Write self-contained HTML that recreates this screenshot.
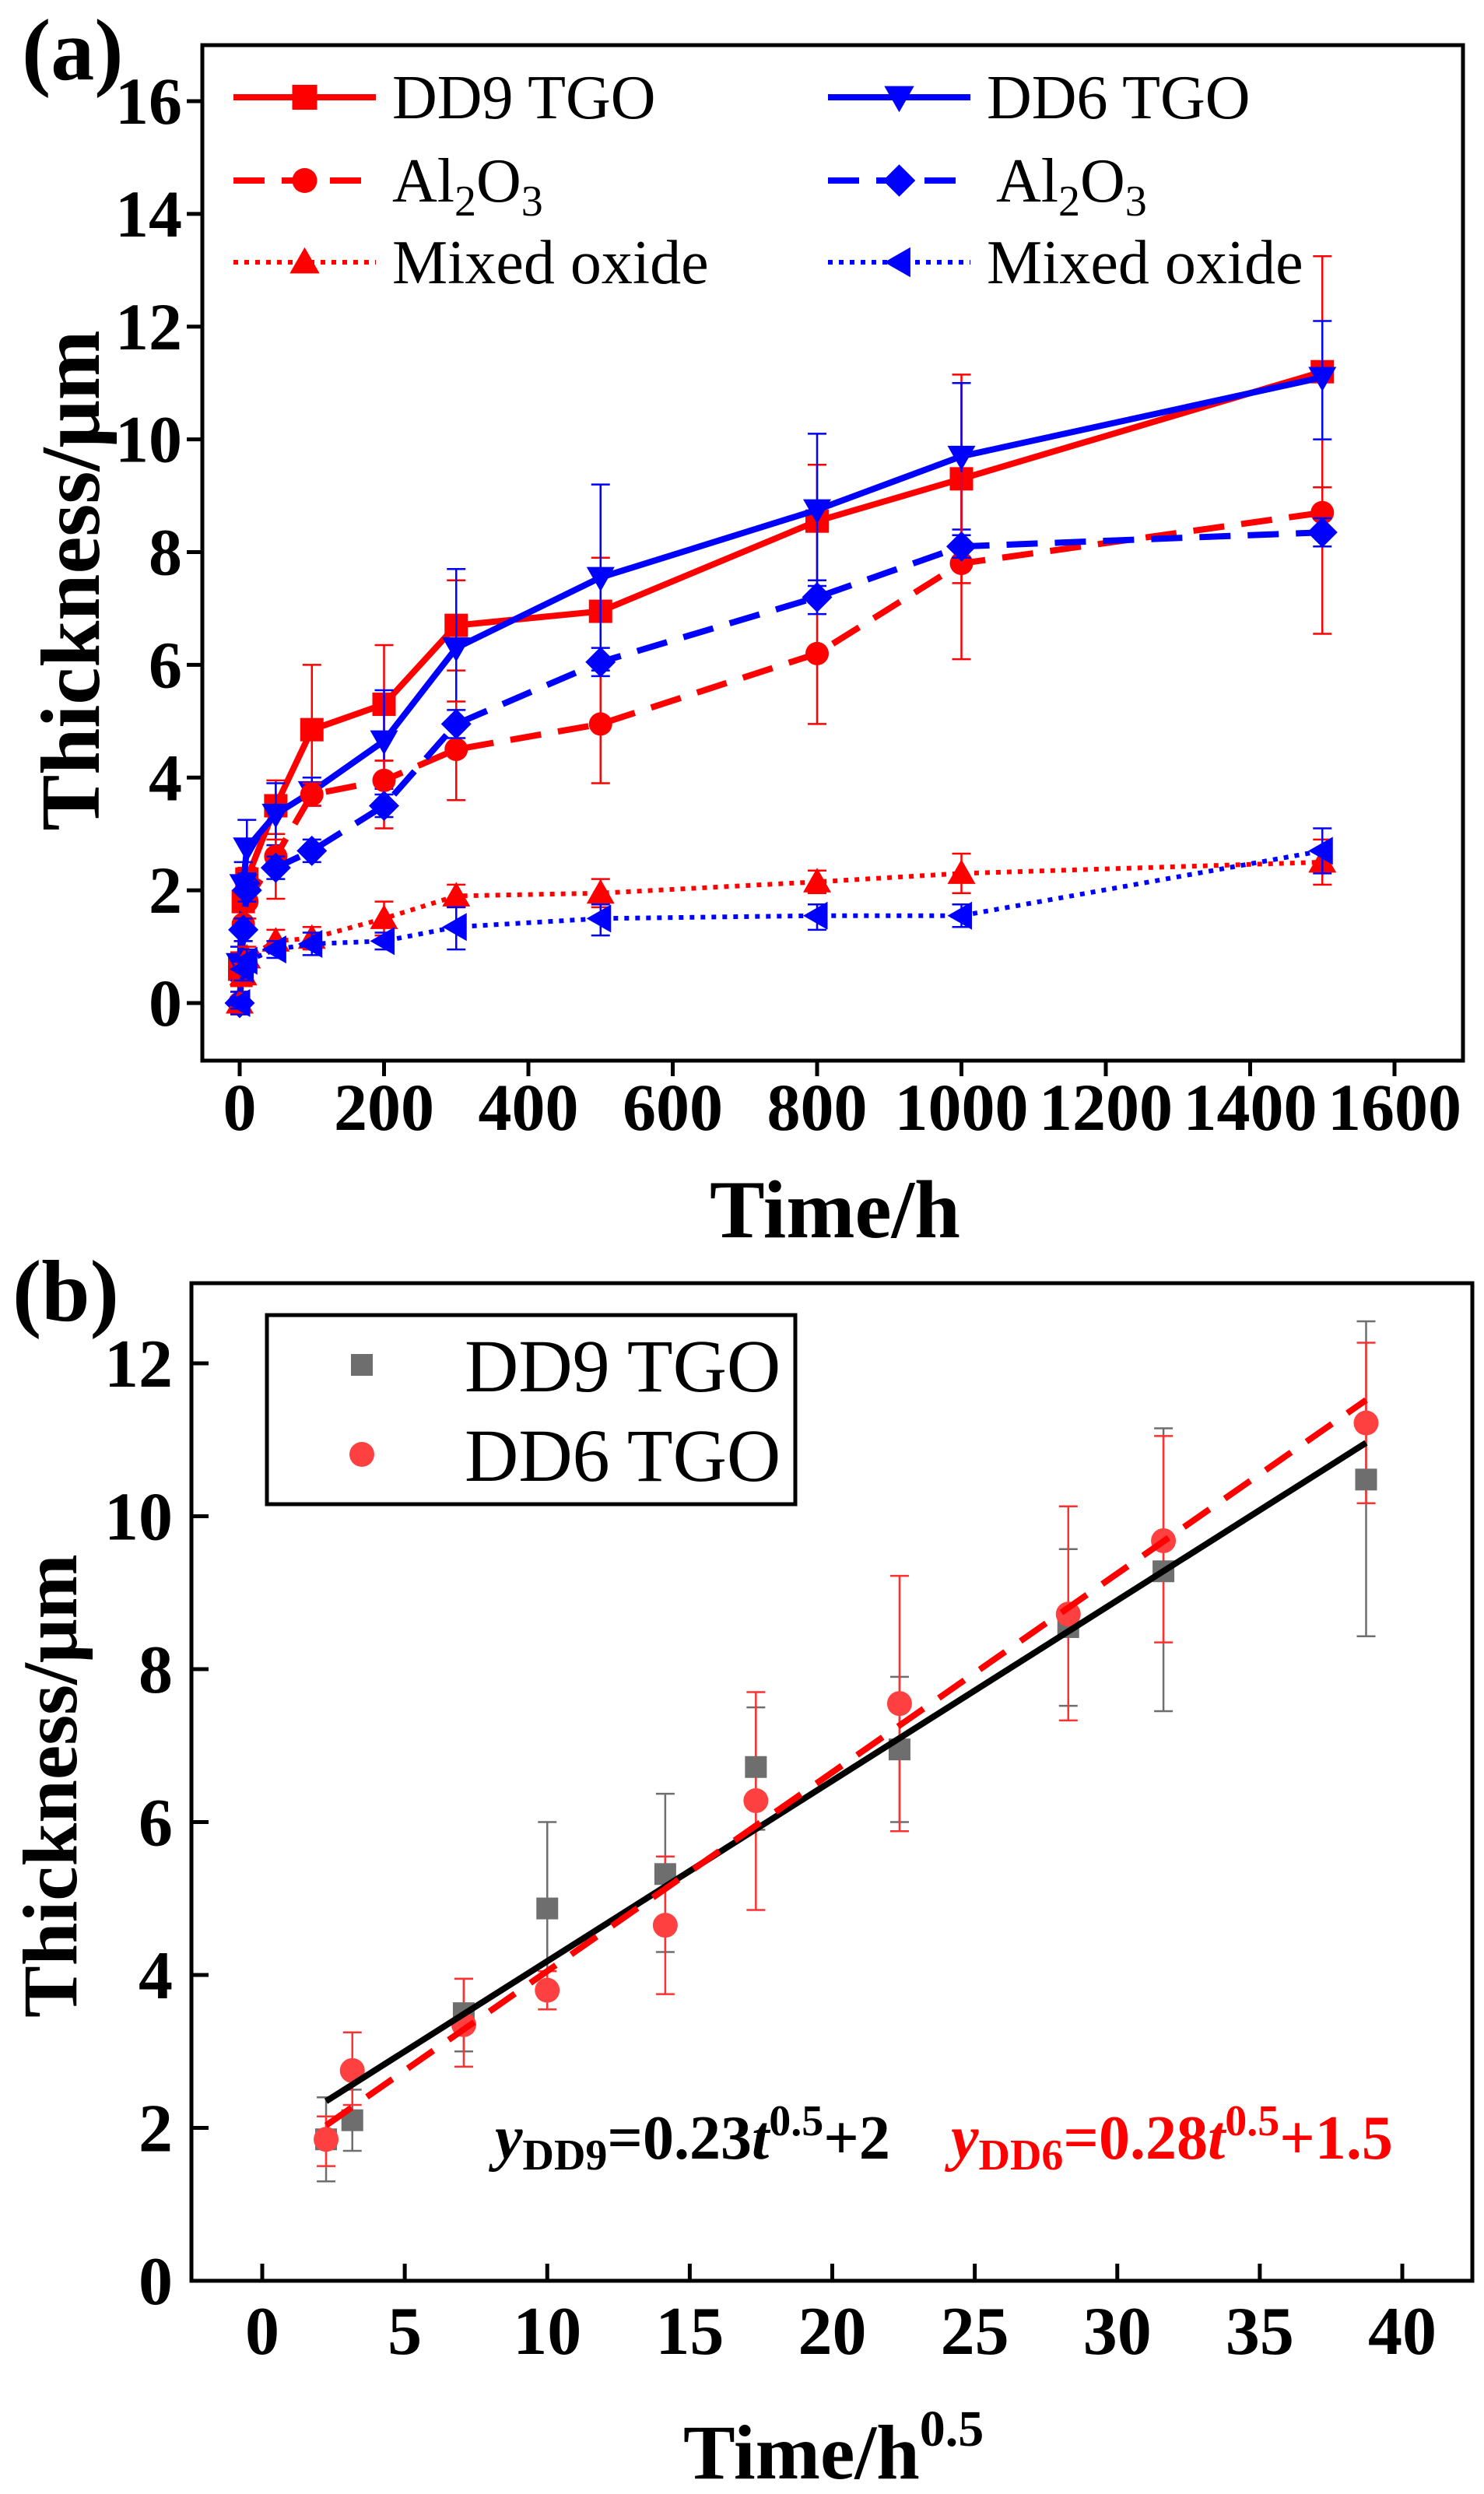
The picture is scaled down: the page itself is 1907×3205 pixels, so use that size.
<!DOCTYPE html>
<html><head><meta charset="utf-8"><style>
html,body{margin:0;padding:0;background:#fff}
svg{display:block}
svg text{font-family:"Liberation Serif","Times New Roman",Times,serif}
</style></head><body>
<svg id="chart" width="1907" height="3205" viewBox="0 0 1907 3205" xmlns="http://www.w3.org/2000/svg" font-family="Liberation Serif, Times New Roman, serif">
<g id="pa"></g>
<g id="pb"></g>
</svg>
<script>
// ---- Panel (a) data ----
const timesA = [0, 5, 10, 50, 100, 200, 300, 500, 800, 1000, 1500];
const dd9Tgo = [0.6, 1.8, 2.2, 3.5, 4.85, 5.3, 6.7, 6.95, 8.55, 9.3, 11.2];
const dd9TgoHi = [0.9, 2.2, 2.4, 3.95, 6.0, 6.35, 7.5, 7.9, 9.55, 11.15, 13.25];
const dd9TgoLo = [0.3, 1.5, 1.3, 3.0, 3.75, 4.3, 5.9, 6.0, 7.5, 7.45, 9.15];
const dd6Tgo = [0.7, 2.1, 2.75, 3.35, 3.75, 4.65, 6.3, 7.55, 8.75, 9.7, 11.1];
const dd6TgoHi = [1.0, 2.5, 3.25, 3.9, 4.0, 5.55, 7.7, 9.2, 10.1, 11.0, 12.1];
const dd6TgoLo = [0.4, 1.7, 2.3, 2.8, 3.5, 3.8, 4.9, 5.9, 7.4, 8.4, 10.0];
const dd9Al = [0, 1.4, 1.8, 2.6, 3.7, 3.95, 4.5, 4.95, 6.2, 7.8, 8.7];
const dd9AlHi = [0.2, 1.7, 2.1, 2.9, 3.9, 4.3, 5.35, 6.0, 7.5, 9.4, 9.15];
const dd9AlLo = [-0.2, 1.1, 1.5, 1.85, 3.5, 3.1, 3.6, 3.9, 4.95, 6.1, 6.55];
const dd6Al = [0, 1.3, 2.0, 2.4, 2.7, 3.5, 4.95, 6.05, 7.2, 8.1, 8.35];
const dd6AlHi = [0.2, 1.5, 2.2, 2.6, 2.9, 3.7, 5.2, 6.3, 7.5, 8.3, 8.6];
const dd6AlLo = [-0.2, 1.1, 1.8, 2.2, 2.5, 3.3, 4.7, 5.8, 6.9, 7.9, 8.1];
const dd9Mix = [0, 0.5, 0.8, 1.1, 1.15, 1.5, 1.9, 1.95, 2.15, 2.3, 2.5];
const dd9MixHi = [0.1, 0.7, 1.0, 1.3, 1.35, 1.8, 2.1, 2.2, 2.35, 2.65, 2.9];
const dd9MixLo = [-0.1, 0.3, 0.6, 0.9, 0.95, 1.2, 1.7, 1.7, 1.95, 1.95, 2.1];
const dd6Mix = [0, 0.6, 0.75, 0.95, 1.05, 1.1, 1.35, 1.5, 1.55, 1.55, 2.7];
const dd6MixHi = [0.1, 0.8, 0.95, 1.1, 1.25, 1.25, 1.7, 1.75, 1.75, 1.75, 3.1];
const dd6MixLo = [-0.1, 0.4, 0.55, 0.8, 0.85, 0.95, 0.95, 1.2, 1.3, 1.35, 2.3];
const xTicksA = [0, 200, 400, 600, 800, 1000, 1200, 1400, 1600];
const yTicksA = [0, 2, 4, 6, 8, 10, 12, 14, 16];

// ---- Panel (b) data ----
const sqrtT = [2.24, 3.16, 7.07, 10, 14.14, 17.32, 22.36, 28.28, 31.62, 38.73];
const dd9B = [1.85, 2.1, 3.5, 4.87, 5.32, 6.72, 6.95, 8.55, 9.28, 10.48];
const dd9BHi = [2.4, 2.5, 3.95, 6.0, 6.37, 7.5, 7.9, 9.57, 11.15, 12.55];
const dd9BLo = [1.3, 1.7, 3.0, 3.75, 4.3, 5.9, 6.0, 7.52, 7.45, 8.43];
const dd6B = [1.85, 2.75, 3.35, 3.8, 4.65, 6.28, 7.55, 8.72, 9.68, 11.22];
const dd6BHi = [2.15, 3.25, 3.95, 4.05, 5.55, 7.7, 9.22, 10.13, 11.05, 12.27];
const dd6BLo = [1.5, 2.3, 2.8, 3.55, 3.75, 4.85, 5.88, 7.33, 8.35, 10.17];
const fitDD9 = [0.236, 1.82];
const fitDD6 = [0.26, 1.45];
const xTicksB = [0, 5, 10, 15, 20, 25, 30, 35, 40];
const yTicksB = [0, 2, 4, 6, 8, 10, 12];

const NS = 'http://www.w3.org/2000/svg';
const FF = 'Liberation Serif, Times New Roman, serif';
function mk(parent, tag, attrs, text){
  const e = document.createElementNS(NS, tag);
  for (const k in attrs) e.setAttribute(k, attrs[k]);
  if (tag === 'text') e.setAttribute('font-family', FF);
  if (text !== undefined) e.textContent = text;
  parent.appendChild(e); return e;
}
function marker(g, shape, x, y, s, color){
  let e;
  if (shape==='square') e = mk(g,'rect',{x:x-s/2,y:y-s/2,width:s,height:s,fill:color});
  else if (shape==='circle') e = mk(g,'circle',{cx:x,cy:y,r:s/2,fill:color});
  else if (shape==='up') e = mk(g,'polygon',{points:`${x},${y-s*0.6} ${x-s*0.6},${y+s*0.45} ${x+s*0.6},${y+s*0.45}`,fill:color});
  else if (shape==='down') e = mk(g,'polygon',{points:`${x},${y+s*0.6} ${x-s*0.6},${y-s*0.45} ${x+s*0.6},${y-s*0.45}`,fill:color});
  else if (shape==='left') e = mk(g,'polygon',{points:`${x-s*0.6},${y} ${x+s*0.45},${y-s*0.6} ${x+s*0.45},${y+s*0.6}`,fill:color});
  else if (shape==='diamond') e = mk(g,'polygon',{points:`${x},${y-s*0.65} ${x+s*0.65},${y} ${x},${y+s*0.65} ${x-s*0.65},${y}`,fill:color});
  return e;
}

// ===== Panel A =====
(function(){
  const g = document.getElementById('pa');
  const L=260, T=58, R=1880, B=1363;
  const xs = v => 308 + v*(1792-308)/1600;
  const ys = v => 1289 - v*(1289-130)/16;
  const series = [
    {name:'dd9-tgo', y:dd9Tgo, hi:dd9TgoHi, lo:dd9TgoLo, c:'#ff0000', dash:'', m:'square', lw:8},
    {name:'dd6-tgo', y:dd6Tgo, hi:dd6TgoHi, lo:dd6TgoLo, c:'#0000ff', dash:'', m:'down', lw:8},
    {name:'dd9-al2o3', y:dd9Al, hi:dd9AlHi, lo:dd9AlLo, c:'#ff0000', dash:'40 22', m:'circle', lw:8},
    {name:'dd6-al2o3', y:dd6Al, hi:dd6AlHi, lo:dd6AlLo, c:'#0000ff', dash:'40 22', m:'diamond', lw:8},
    {name:'dd9-mixed-oxide', y:dd9Mix, hi:dd9MixHi, lo:dd9MixLo, c:'#ff0000', dash:'6 8', m:'up', lw:6},
    {name:'dd6-mixed-oxide', y:dd6Mix, hi:dd6MixHi, lo:dd6MixLo, c:'#0000ff', dash:'6 8', m:'left', lw:6}
  ];
  series.forEach(s=>{
    const sg = mk(g,'g',{});
    
    
    timesA.forEach((t,i)=>{
      const x=xs(t);
      const eb = mk(sg,'path',{d:`M${x},${ys(s.hi[i])}V${ys(s.lo[i])}M${x-12},${ys(s.hi[i])}h24M${x-12},${ys(s.lo[i])}h24`,stroke:s.c,'stroke-width':2.5,fill:'none'});
      
      
    });
    const pts = timesA.map((t,i)=>xs(t)+','+ys(s.y[i])).join(' ');
    const ln = mk(sg,'polyline',{points:pts,fill:'none',stroke:s.c,'stroke-width':s.lw,'stroke-dasharray':s.dash,'stroke-linejoin':'round'});
    
    
    timesA.forEach((t,i)=>{
      const mm = marker(sg,s.m,xs(t),ys(s.y[i]),30,s.c);
      
      
    });
  });
  const fr = mk(g,'rect',{x:L,y:T,width:R-L,height:B-T,fill:'none',stroke:'#000','stroke-width':5});
  
  
  xTicksA.forEach(v=>{
    mk(g,'line',{x1:xs(v),x2:xs(v),y1:B,y2:B+20,stroke:'#000','stroke-width':5});
    const t = mk(g,'text',{x:xs(v),y:1452,'text-anchor':'middle','font-size':86,'font-weight':'bold'},String(v));
    
    
  });
  yTicksA.forEach(v=>{
    mk(g,'line',{x1:L,x2:L-20,y1:ys(v),y2:ys(v),stroke:'#000','stroke-width':5});
    const t = mk(g,'text',{x:234,y:ys(v)+29,'text-anchor':'end','font-size':86,'font-weight':'bold'},String(v));
    
    
  });
  const yt = mk(g,'text',{transform:'translate(127,746) rotate(-90)','text-anchor':'middle','font-size':108,'font-weight':'bold'},'Thickness/μm');
  
  
  const xt = mk(g,'text',{x:1073,y:1590,'text-anchor':'middle','font-size':106,'font-weight':'bold'},'Time/h');
  
  
  const pl = mk(g,'text',{x:28,y:102,'font-size':112,'font-weight':'bold'},'(a)');
  
  
  const leg = mk(g,'g',{});
  
  
  const rows=[125,232,337];
  const cols=[[300,483,504],[1064,1247,1268]];
  series.forEach((s,i)=>{
    const col=cols[i%2], ry=rows[Math.floor(i/2)];
    const le = mk(leg,'g',{});
    
    
    mk(le,'line',{x1:col[0],x2:col[1],y1:ry,y2:ry,stroke:s.c,'stroke-width':s.lw,'stroke-dasharray':s.dash});
    marker(le,s.m,(col[0]+col[1])/2,ry,32,s.c);
    const tx = mk(le,'text',{x:col[2]+(i===3?12:0),y:ry+27,'font-size':80});
    if (i===2||i===3){
      tx.innerHTML = 'Al<tspan font-size="56" dy="18">2</tspan><tspan dy="-18">O</tspan><tspan font-size="56" dy="18">3</tspan>';
    } else tx.textContent = i<2 ? (i===0?'DD9 TGO':'DD6 TGO') : 'Mixed oxide';
  });
})();

// ===== Panel B =====
(function(){
  const g = document.getElementById('pb');
  const L=246, T=1649, R=1892, B=2931;
  const xs = v => 337 + v*(1802-337)/40;
  const ys = v => 2931 - v*(2931-1752)/12;
  sqrtT.forEach((t,i)=>{
    const x=xs(t);
    const e1 = mk(g,'path',{d:`M${x},${ys(dd9BHi[i])}V${ys(dd9BLo[i])}M${x-12},${ys(dd9BHi[i])}h24M${x-12},${ys(dd9BLo[i])}h24`,stroke:'#6e6e6e','stroke-width':2.5,fill:'none'});
    
    
    const e2 = mk(g,'path',{d:`M${x},${ys(dd6BHi[i])}V${ys(dd6BLo[i])}M${x-12},${ys(dd6BHi[i])}h24M${x-12},${ys(dd6BLo[i])}h24`,stroke:'#ff3030','stroke-width':2.5,fill:'none'});
    
    
  });
  sqrtT.forEach((t,i)=>{
    const m = marker(g,'square',xs(t),ys(dd9B[i]),28,'#6e6e6e');
    
    
  });
  sqrtT.forEach((t,i)=>{
    const m = marker(g,'circle',xs(t),ys(dd6B[i]),32,'#ff4040');
    
    
  });
  const x0=sqrtT[0], x1=sqrtT[sqrtT.length-1];
  const f1 = mk(g,'line',{x1:xs(x0),y1:ys(fitDD9[0]*x0+fitDD9[1]),x2:xs(x1),y2:ys(fitDD9[0]*x1+fitDD9[1]),stroke:'#000','stroke-width':8});
  
  
  const f2 = mk(g,'line',{x1:xs(x0),y1:ys(fitDD6[0]*x0+fitDD6[1]),x2:xs(x1),y2:ys(fitDD6[0]*x1+fitDD6[1]),stroke:'#ff0000','stroke-width':8,'stroke-dasharray':'40 24'});
  
  
  const fr = mk(g,'rect',{x:L,y:T,width:R-L,height:B-T,fill:'none',stroke:'#000','stroke-width':5});
  
  
  xTicksB.forEach(v=>{
    mk(g,'line',{x1:xs(v),x2:xs(v),y1:B,y2:B-22,stroke:'#000','stroke-width':5});
    const t = mk(g,'text',{x:xs(v),y:3025,'text-anchor':'middle','font-size':88,'font-weight':'bold'},String(v));
    
    
  });
  yTicksB.forEach(v=>{
    mk(g,'line',{x1:L,x2:L+22,y1:ys(v),y2:ys(v),stroke:'#000','stroke-width':5});
    const t = mk(g,'text',{x:222,y:ys(v)+30,'text-anchor':'end','font-size':88,'font-weight':'bold'},String(v));
    
    
  });
  const yt = mk(g,'text',{transform:'translate(98,2295) rotate(-90)','text-anchor':'middle','font-size':100,'font-weight':'bold'},'Thickness/μm');
  
  
  const xt = mk(g,'text',{x:878,y:3185,'font-size':100,'font-weight':'bold'});
  xt.innerHTML='Time/h<tspan font-size="66" dy="-42">0.5</tspan>';
  
  
  const pl = mk(g,'text',{x:16,y:1697,'font-size':112,'font-weight':'bold'},'(b)');
  
  
  const leg = mk(g,'g',{});
  
  
  mk(leg,'rect',{x:343,y:1690,width:679,height:243,fill:'#fff',stroke:'#000','stroke-width':5});
  const le1 = mk(leg,'g',{});
  
  
  marker(le1,'square',465,1754,28,'#6e6e6e');
  mk(le1,'text',{x:597,y:1788,'font-size':96},'DD9 TGO');
  const le2 = mk(leg,'g',{});
  
  
  marker(le2,'circle',465,1869,32,'#ff4040');
  mk(le2,'text',{x:597,y:1903,'font-size':96},'DD6 TGO');
  const eq1 = mk(g,'text',{x:636,y:2774,'font-size':80,'font-weight':'bold',fill:'#000'});
  eq1.innerHTML='<tspan font-style="italic">y</tspan><tspan font-size="56" dy="14">DD9</tspan><tspan dy="-14">=0.23</tspan><tspan font-style="italic">t</tspan><tspan font-size="56" dy="-30">0.5</tspan><tspan dy="30">+2</tspan>';
  
  
  const eq2 = mk(g,'text',{x:1222,y:2774,'font-size':80,'font-weight':'bold',fill:'#ff0000'});
  eq2.innerHTML='<tspan font-style="italic">y</tspan><tspan font-size="56" dy="14">DD6</tspan><tspan dy="-14">=0.28</tspan><tspan font-style="italic">t</tspan><tspan font-size="56" dy="-30">0.5</tspan><tspan dy="30">+1.5</tspan>';
  
  
})();
</script>
</body></html>
